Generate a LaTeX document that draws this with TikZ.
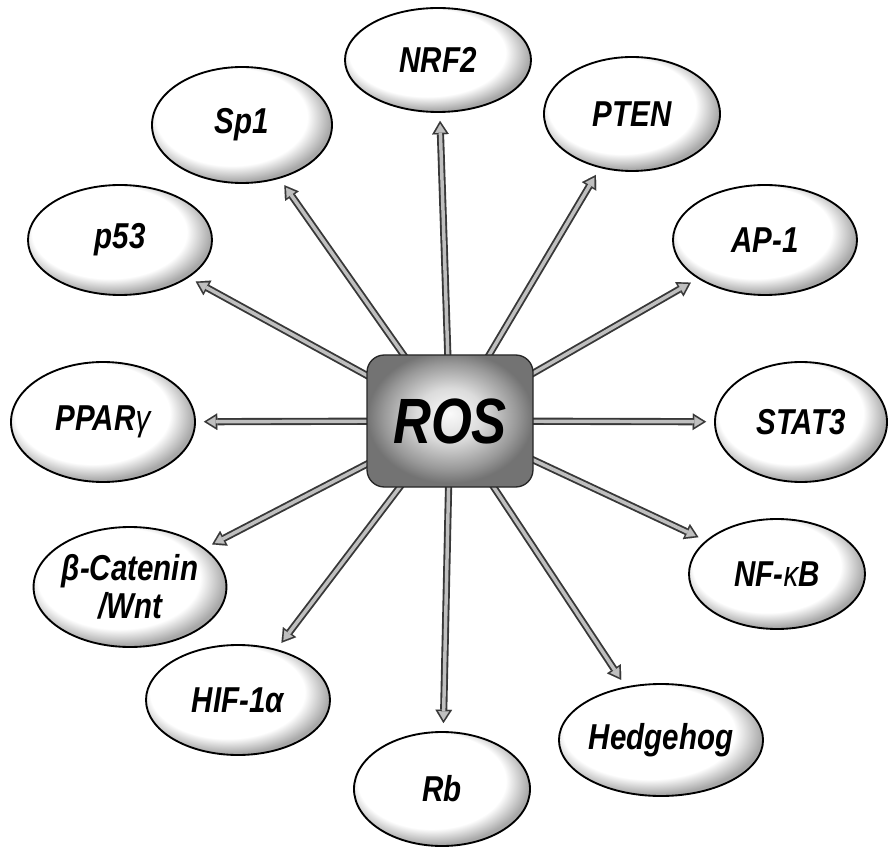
\documentclass[tikz,border=0pt]{standalone}
\usepackage{fontspec}
\setmainfont{Liberation Sans}[FakeStretch=0.82]
\usetikzlibrary{shapes.geometric,arrows.meta}
\pgfdeclarelayer{bg}
\pgfsetlayers{bg,main}
\pgfdeclareradialshading{ellshade}{\pgfpoint{-5bp}{6bp}}{color(0bp)=(white); color(21bp)=(white); color(27bp)=(black!34); color(50bp)=(black!34)}
\pgfdeclareradialshading{rosshade}{\pgfpoint{0bp}{3bp}}{color(0bp)=(black!2); color(10bp)=(black!14); color(20bp)=(black!40); color(25bp)=(black!55); color(50bp)=(black!55)}
\tikzset{
  ell/.style={ellipse, draw=black, line width=1.4pt, inner sep=0pt, shading=ellshade,
    font=\fontsize{27}{28.5}\selectfont\bfseries\itshape, align=center},
  rosbox/.style={rectangle, rounded corners=13pt, draw=black!85, line width=1pt, shading=rosshade,
    minimum width=124.5pt, minimum height=99pt, font=\fontsize{48}{50}\selectfont\bfseries\itshape},
  arrout/.style={draw=black!78, fill=black!78, line width=5.4pt,
    -{Triangle[length=10pt,width=12.5pt,line width=0.01pt]}, shorten >=6pt},
  arrin/.style={draw=black!25, fill=black!25, line width=2.6pt,
    -{Triangle[length=6.5pt,width=8pt,line width=0.01pt]}, shorten >=8.33pt}
}
\begin{document}
\begin{tikzpicture}[x=0.75pt,y=-0.75pt]
\useasboundingbox (0,0) rectangle (889,848);
\node[rosbox] (ros) at (450,421) {ROS};
\node[ell, minimum width=139.5pt, minimum height=78pt] (nrf2) at (438,60) {NRF2};
\node[ell, minimum width=135pt, minimum height=87pt] (sp1) at (242,125) {Sp1};
\node[ell, minimum width=132pt, minimum height=85.5pt] (pten) at (632,114) {PTEN};
\node[ell, minimum width=138pt, minimum height=82.5pt] (p53) at (120,240) {p53};
\node[ell, minimum width=138pt, minimum height=82.5pt] (ap1) at (765,240) {AP-1};
\node[ell, minimum width=138pt, minimum height=90pt] (ppar) at (103,422) {PPAR{\mdseries γ}};
\node[ell, minimum width=129pt, minimum height=90pt] (stat3) at (801,422) {STAT3};
\node[ell, minimum width=139.5pt, minimum height=90pt] (beta) at (130,587) {β-Catenin\\/Wnt};
\node[ell, minimum width=132pt, minimum height=82.5pt] (nfkb) at (777,574) {NF-{\mdseries κ}B};
\node[ell, minimum width=138pt, minimum height=82.5pt] (hif) at (238,700) {HIF-1α};
\node[ell, minimum width=132pt, minimum height=85.5pt] (rb) at (442,789) {Rb};
\node[ell, minimum width=138pt, minimum height=84pt] (hedge) at (661,740) {Hedgehog};
\begin{pgfonlayer}{bg}
\foreach \n in {nrf2,sp1,pten,p53,ap1,ppar,stat3,beta,nfkb,hif,rb,hedge}{
  \draw[arrout] (ros.center) -- (\n);
  \draw[arrin] (ros.center) -- (\n);
}
\end{pgfonlayer}
\end{tikzpicture}
\end{document}
